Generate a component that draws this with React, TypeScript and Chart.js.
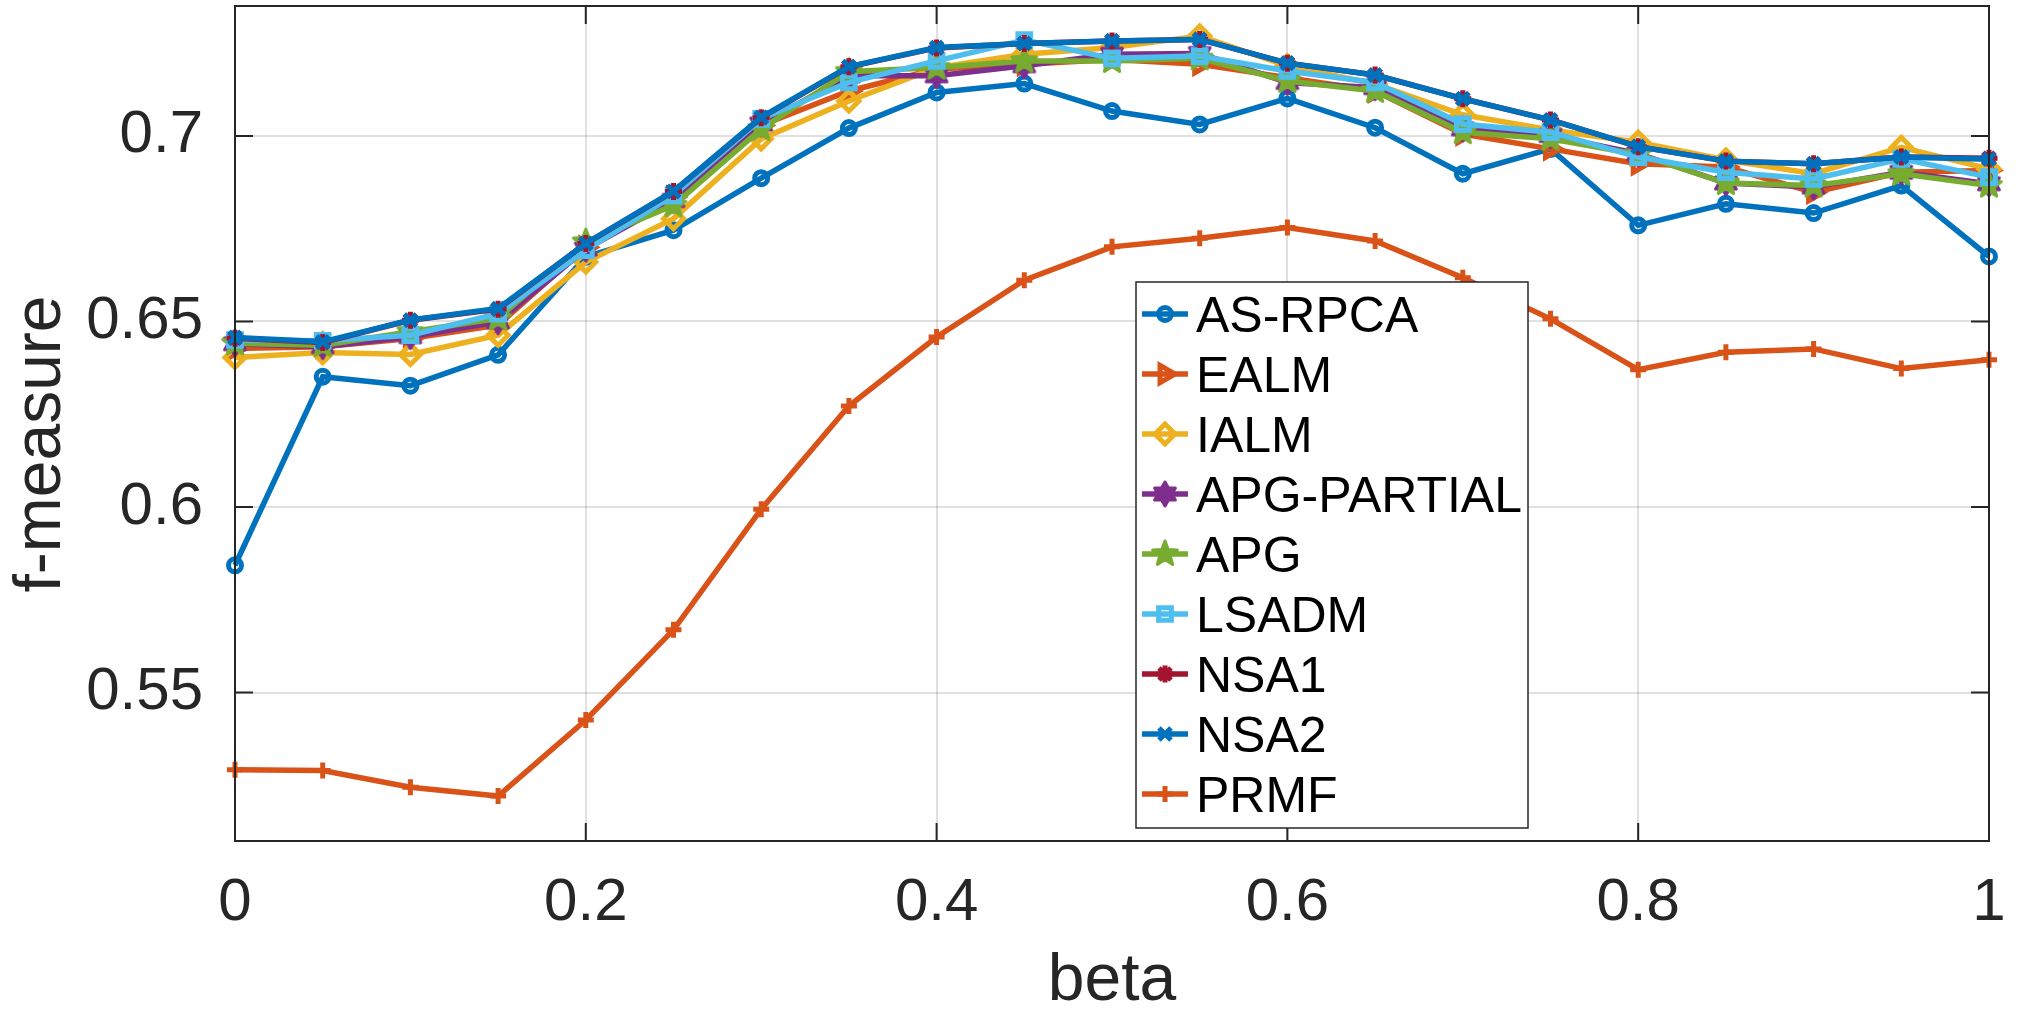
import React, { useEffect, useRef } from 'react';
import { Chart, registerables } from 'chart.js';
import { drawPoint } from 'chart.js/helpers';

Chart.register(...registerables);

// ---------------- data ----------------
const BETA = [0, 0.05, 0.1, 0.15, 0.2, 0.25, 0.3, 0.35, 0.4, 0.45, 0.5, 0.55, 0.6, 0.65, 0.7, 0.75, 0.8, 0.85, 0.9, 0.95, 1];

const AS_RPCA = [0.5843, 0.6351, 0.6327, 0.6410, 0.6674, 0.6746, 0.6886, 0.7021, 0.7117, 0.7141, 0.7067, 0.7031, 0.7101, 0.7022, 0.6898, 0.6965, 0.6759, 0.6817, 0.6792, 0.6866, 0.6675];
const EALM = [0.6427, 0.6432, 0.6454, 0.6490, 0.6700, 0.6835, 0.7028, 0.7121, 0.7180, 0.7193, 0.7206, 0.7193, 0.7157, 0.7121, 0.7005, 0.6965, 0.6925, 0.6916, 0.6848, 0.6902, 0.6907];
const IALM = [0.6403, 0.6416, 0.6411, 0.6463, 0.6660, 0.6777, 0.6992, 0.7094, 0.7184, 0.7220, 0.7238, 0.7269, 0.7189, 0.7140, 0.7057, 0.7016, 0.6983, 0.6935, 0.6898, 0.6969, 0.6911];
const APG_PARTIAL = [0.6440, 0.6432, 0.6459, 0.6499, 0.6695, 0.6826, 0.7032, 0.7162, 0.7162, 0.7189, 0.7220, 0.7222, 0.7144, 0.7130, 0.7019, 0.7001, 0.6952, 0.6873, 0.6862, 0.6902, 0.6871];
const APG = [0.6441, 0.6436, 0.6472, 0.6508, 0.6714, 0.6813, 0.7019, 0.7173, 0.7184, 0.7202, 0.7202, 0.7209, 0.7148, 0.7121, 0.7010, 0.6992, 0.6950, 0.6873, 0.6866, 0.6898, 0.6866];
const LSADM = [0.6450, 0.6448, 0.6463, 0.6521, 0.6692, 0.6840, 0.7046, 0.7144, 0.7202, 0.7258, 0.7209, 0.7215, 0.7175, 0.7144, 0.7032, 0.7010, 0.6943, 0.6902, 0.6884, 0.6938, 0.6889];
const NSA1 = [0.6455, 0.6443, 0.6503, 0.6533, 0.6710, 0.6850, 0.7049, 0.7186, 0.7237, 0.7249, 0.7256, 0.7260, 0.7196, 0.7164, 0.7100, 0.7043, 0.6971, 0.6932, 0.6925, 0.6943, 0.6940];
const NSA2 = [0.6457, 0.6445, 0.6504, 0.6535, 0.6710, 0.6851, 0.7050, 0.7187, 0.7238, 0.7249, 0.7256, 0.7260, 0.7196, 0.7164, 0.7100, 0.7043, 0.6971, 0.6932, 0.6925, 0.6943, 0.6937];
const PRMF = [0.5292, 0.5290, 0.5245, 0.5221, 0.5426, 0.5669, 0.5994, 0.6272, 0.6458, 0.6611, 0.6701, 0.6724, 0.6753, 0.6717, 0.6618, 0.6507, 0.6370, 0.6417, 0.6426, 0.6373, 0.6397];

const SERIES_NAMES = ['AS-RPCA', 'EALM', 'IALM', 'APG-PARTIAL', 'APG', 'LSADM', 'NSA1', 'NSA2', 'PRMF'];
const SERIES_VALUES = [AS_RPCA, EALM, IALM, APG_PARTIAL, APG, LSADM, NSA1, NSA2, PRMF];

const X_TICKS = [0, 0.2, 0.4, 0.6, 0.8, 1];
const Y_TICKS = [0.55, 0.6, 0.65, 0.7];
const X_TITLE = 'beta';
const Y_TITLE = 'f-measure';

// ---------------- styles ----------------
const FONT = '"Liberation Sans", Arial, Helvetica, sans-serif';
const TEXT_COLOR = '#262626';
const COLORS = ['#0072BD', '#D95319', '#EDB120', '#7E2F8E', '#77AC30', '#4DBEEE', '#A2142F', '#0072BD', '#D95319'];
const LINE_W = 5.5;
const MARKER_W = 5;

function starCanvas(points: number, color: string, rOuter: number, rInner: number): HTMLCanvasElement {
  const size = Math.ceil(rOuter * 2 + 8);
  const c = document.createElement('canvas');
  c.width = size;
  c.height = size;
  const ctx = c.getContext('2d')!;
  const cx = size / 2;
  ctx.beginPath();
  for (let i = 0; i < points * 2; i++) {
    const r = i % 2 === 0 ? rOuter : rInner;
    const a = -Math.PI / 2 + (i * Math.PI) / points;
    ctx.lineTo(cx + r * Math.cos(a), cx + r * Math.sin(a));
  }
  ctx.closePath();
  ctx.fillStyle = color;
  ctx.fill();
  ctx.lineWidth = 3;
  ctx.strokeStyle = color;
  ctx.lineJoin = 'round';
  ctx.stroke();
  return c;
}

function fmt(v: number): string {
  return String(Number(v.toFixed(2)));
}

function markerStyles() {
  return [
    { pointStyle: 'circle', radius: 6.5, rotation: 0 },
    { pointStyle: 'triangle', radius: 10, rotation: 90 },
    { pointStyle: 'rectRot', radius: 10, rotation: 0 },
    { pointStyle: starCanvas(6, COLORS[3], 12, 7), radius: 10, rotation: 0 },
    { pointStyle: starCanvas(5, COLORS[4], 13, 5.5), radius: 10, rotation: 0 },
    { pointStyle: 'rect', radius: 9, rotation: 0 },
    { pointStyle: 'star', radius: 8.5, rotation: 0 },
    { pointStyle: 'crossRot', radius: 8.5, rotation: 0 },
    { pointStyle: 'cross', radius: 8, rotation: 0 },
  ];
}

export default function App() {
  const ref = useRef<HTMLCanvasElement>(null);

  useEffect(() => {
    document.body.style.margin = '0';
    const markers = markerStyles();

    const datasets = SERIES_NAMES.map((name, i) => ({
      label: name,
      data: BETA.map((b, j) => ({ x: b, y: SERIES_VALUES[i][j] })),
      borderColor: COLORS[i],
      backgroundColor: 'rgba(0,0,0,0)',
      borderWidth: LINE_W,
      pointStyle: markers[i].pointStyle as any,
      pointRadius: markers[i].radius,
      pointRotation: markers[i].rotation,
      pointBorderWidth: MARKER_W,
      pointBorderColor: COLORS[i],
      pointBackgroundColor: 'rgba(0,0,0,0)',
      tension: 0,
      clip: false as any,
      order: SERIES_NAMES.length - i,
    }));

    const framePlugin = {
      id: 'matlabFrame',
      afterDatasetsDraw(chart: any) {
        const { ctx, chartArea } = chart;
        const { left, right, top, bottom } = chartArea;
        const xs = chart.scales.x;
        const ys = chart.scales.y;
        ctx.save();
        ctx.strokeStyle = TEXT_COLOR;
        ctx.lineWidth = 2;
        ctx.strokeRect(left, top, right - left, bottom - top);
        const tl = 18;
        ctx.beginPath();
        X_TICKS.forEach((v) => {
          const px = xs.getPixelForValue(v);
          ctx.moveTo(px, bottom);
          ctx.lineTo(px, bottom - tl);
          ctx.moveTo(px, top);
          ctx.lineTo(px, top + tl);
        });
        Y_TICKS.forEach((v) => {
          const py = ys.getPixelForValue(v);
          ctx.moveTo(left, py);
          ctx.lineTo(left + tl, py);
          ctx.moveTo(right, py);
          ctx.lineTo(right - tl, py);
        });
        ctx.stroke();

        // axis titles
        ctx.fillStyle = TEXT_COLOR;
        ctx.font = `66px ${FONT}`;
        ctx.textAlign = 'center';
        ctx.textBaseline = 'alphabetic';
        ctx.fillText(X_TITLE, (left + right) / 2, 1000);
        ctx.translate(60, 444);
        ctx.rotate(-Math.PI / 2);
        ctx.fillText(Y_TITLE, 0, 0);
        ctx.restore();
      },
      afterDraw(chart: any) {
        const { ctx } = chart;
        const box = { left: 1136, top: 282, right: 1528, bottom: 828 };
        ctx.save();
        ctx.fillStyle = '#ffffff';
        ctx.fillRect(box.left, box.top, box.right - box.left, box.bottom - box.top);
        ctx.strokeStyle = TEXT_COLOR;
        ctx.lineWidth = 1.5;
        ctx.strokeRect(box.left, box.top, box.right - box.left, box.bottom - box.top);
        chart.data.datasets.forEach((ds: any, i: number) => {
          const y = 314 + i * 60;
          ctx.strokeStyle = ds.borderColor;
          ctx.lineWidth = LINE_W;
          ctx.beginPath();
          ctx.moveTo(1142, y);
          ctx.lineTo(1188, y);
          ctx.stroke();
          ctx.lineWidth = MARKER_W;
          ctx.fillStyle = 'rgba(0,0,0,0)';
          drawPoint(ctx, { pointStyle: ds.pointStyle, rotation: ds.pointRotation, radius: ds.pointRadius, borderWidth: MARKER_W } as any, 1165, y);
          ctx.fillStyle = '#000000';
          ctx.font = `50px ${FONT}`;
          ctx.textAlign = 'left';
          ctx.textBaseline = 'alphabetic';
          ctx.fillText(ds.label, 1196, y + 18);
        });
        ctx.restore();
      },
    };

    const gridColor = 'rgba(38,38,38,0.14)';

    const chart = new Chart(ref.current!, {
      type: 'line',
      data: { datasets: datasets as any },
      options: {
        animation: false,
        responsive: false,
        devicePixelRatio: 1,
        layout: { autoPadding: false, padding: { left: 0, right: 45, top: 6, bottom: 0 } },
        plugins: { legend: { display: false }, tooltip: { enabled: false } },
        scales: {
          x: {
            type: 'linear',
            min: 0,
            max: 1,
            afterFit: (s: any) => {
              s.height = 170;
              s.paddingLeft = 0;
              s.paddingRight = 0;
            },
            afterBuildTicks: (s: any) => { s.ticks = X_TICKS.map((v) => ({ value: v })); },
            ticks: {
              padding: 26,
              autoSkip: false,
              maxRotation: 0,
              color: TEXT_COLOR,
              font: { family: FONT, size: 60 },
              callback: (v: any) => fmt(Number(v)),
            },
            grid: { drawTicks: false, color: gridColor, lineWidth: 2 },
            border: { display: false },
          },
          y: {
            type: 'linear',
            min: 0.51,
            max: 0.735,
            afterFit: (s: any) => {
              s.width = 235;
              s.paddingTop = 0;
              s.paddingBottom = 0;
            },
            afterBuildTicks: (s: any) => { s.ticks = Y_TICKS.map((v) => ({ value: v })); },
            ticks: {
              padding: 32,
              color: TEXT_COLOR,
              font: { family: FONT, size: 60 },
              callback: (v: any) => fmt(Number(v)),
            },
            grid: { drawTicks: false, color: gridColor, lineWidth: 2 },
            border: { display: false },
          },
        },
      },
      plugins: [framePlugin],
    });
    return () => chart.destroy();
  }, []);

  return (
    <div style={{ width: 2034, height: 1011, background: '#ffffff' }}>
      <canvas ref={ref} width={2034} height={1011} style={{ display: 'block', width: 2034, height: 1011 }} />
    </div>
  );
}
